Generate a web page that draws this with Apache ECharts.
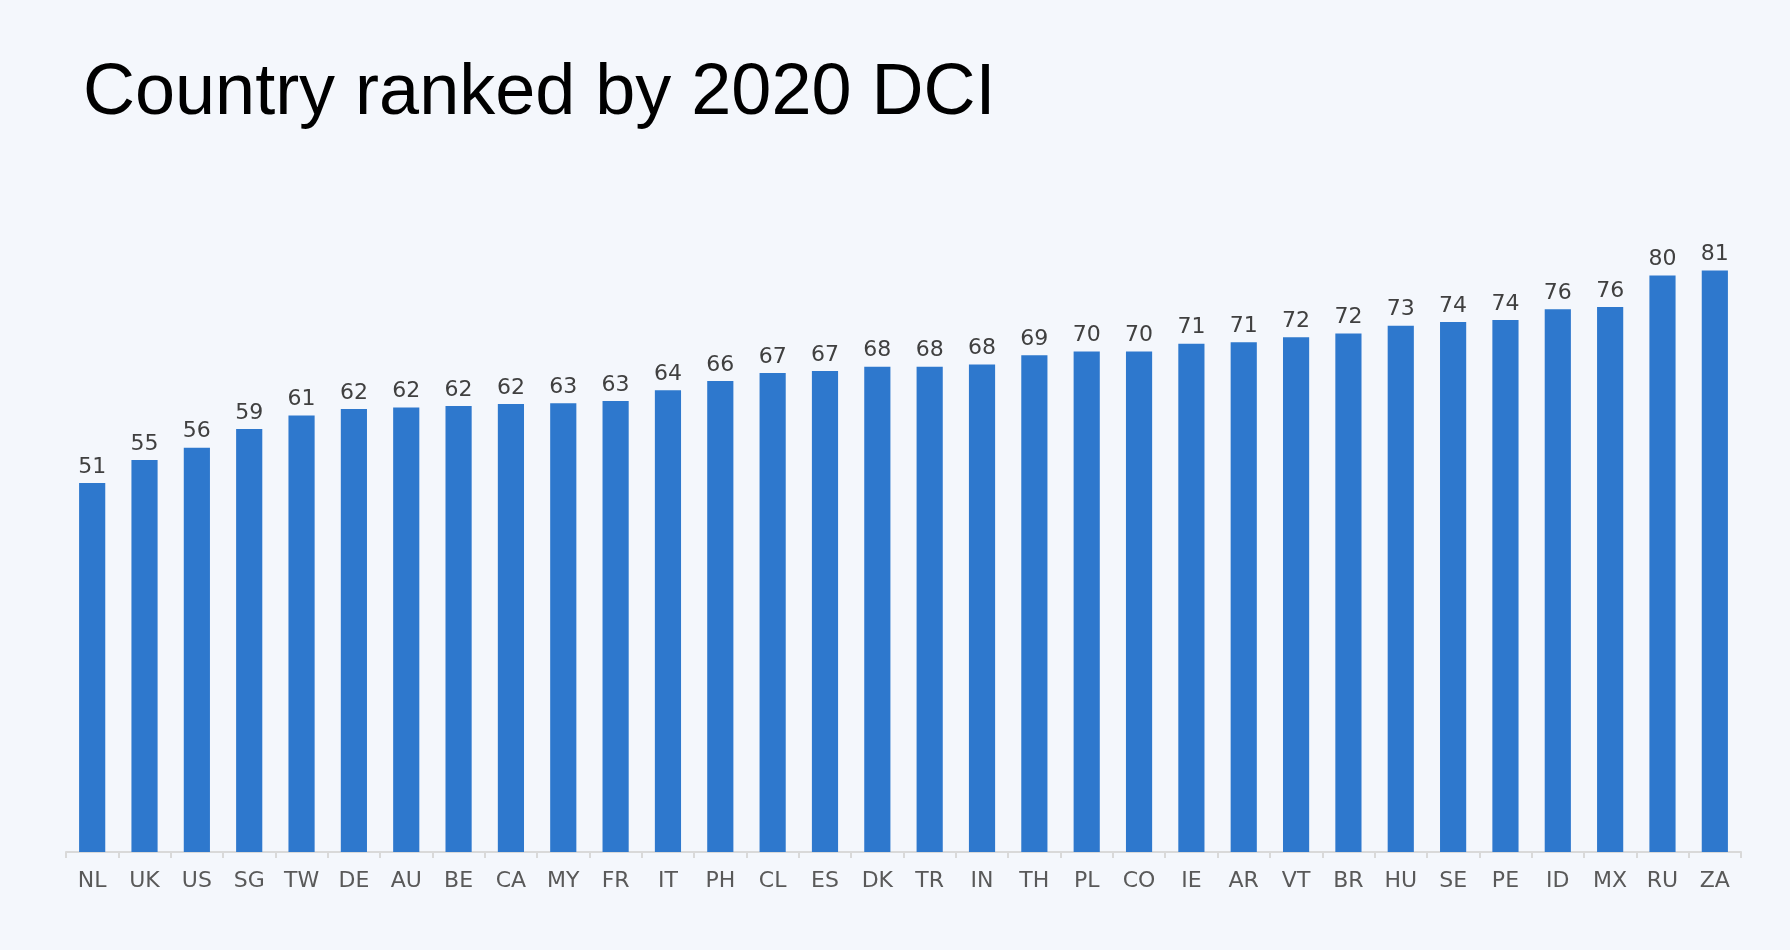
<!DOCTYPE html>
<html>
<head>
<meta charset="utf-8">
<script src="https://cdn.jsdelivr.net/npm/echarts@6/dist/echarts.min.js"></script>
<style>
  html, body { margin: 0; padding: 0; background: #f4f7fc; }
  #main { width: 1790px; height: 950px; }
</style>
</head>
<body>
<div id="main"></div>
<script>
var myChart = echarts.init(document.getElementById('main'));

var countries = ['NL','UK','US','SG','TW','DE','AU','BE','CA','MY','FR','IT','PH','CL','ES','DK',
                 'TR','IN','TH','PL','CO','IE','AR','VT','BR','HU','SE','PE','ID','MX','RU','ZA'];
var dci_2020 = [51.4, 54.6, 56.3, 58.9, 60.8, 61.7, 61.9, 62.1, 62.4, 62.5, 62.8, 64.3, 65.6, 66.7, 67.0, 67.6,
                67.6, 67.9, 69.2, 69.7, 69.7, 70.8, 71.0, 71.7, 72.2, 73.3, 73.8, 74.1, 75.6, 75.9, 80.3, 81.0];

var option = {
    backgroundColor: '#f4f7fc',
    title: {
        text: 'Country ranked by 2020 DCI',
        left: 78,
        top: 53,
        textStyle: {
            fontFamily: 'Liberation Sans',
            fontSize: 72,
            fontWeight: 'normal',
            color: '#000'
        }
    },
    grid: {
        left: 66,
        right: 49,
        top: 134,
        bottom: 98
    },
    xAxis: {
        type: 'category',
        data: countries,
        axisLine: {
            lineStyle: { color: '#d9d9d9', width: 2 }
        },
        axisTick: {
            show: true,
            length: 6,
            lineStyle: { color: '#d9d9d9', width: 2 }
        },
        axisLabel: {
            margin: 18,
            fontFamily: 'DejaVu Sans',
            fontSize: 22,
            color: '#595959'
        }
    },
    yAxis: {
        type: 'value',
        min: 0,
        max: 100,
        show: false,
        splitLine: { show: false }
    },
    series: [
        {
            type: 'bar',
            data: dci_2020,
            barWidth: '50%',
            itemStyle: { color: '#2e78cd' },
            label: {
                show: true,
                position: 'top',
                distance: 5,
                fontFamily: 'DejaVu Sans',
                fontSize: 22,
                color: '#404040',
                formatter: function (p) { return Math.round(p.value); }
            }
        }
    ]
};

myChart.setOption(option);
</script>
</body>
</html>
